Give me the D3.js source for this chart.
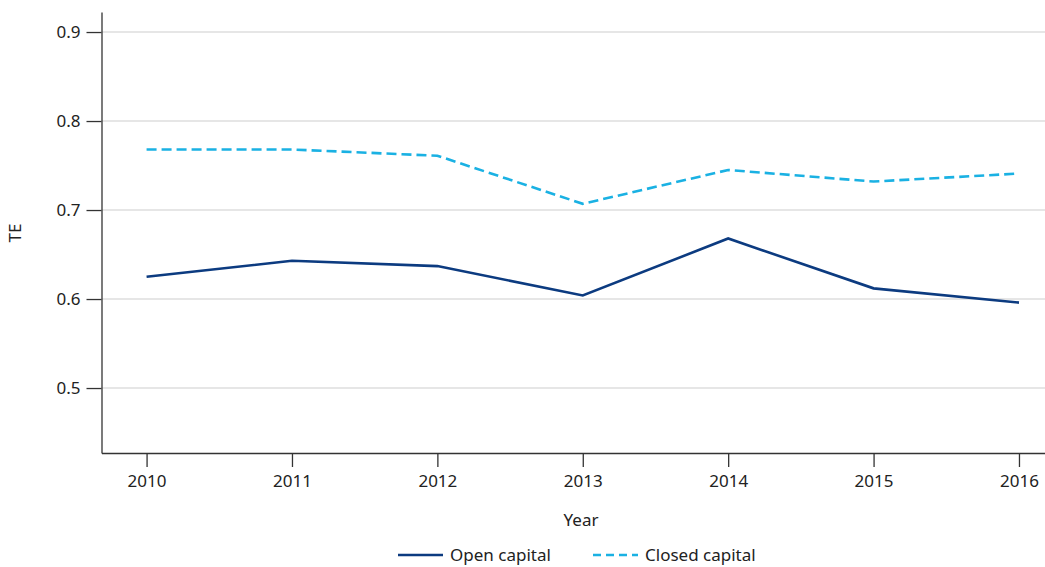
<!DOCTYPE html>
<html>
<head>
<meta charset="utf-8">
<script src="https://cdn.jsdelivr.net/npm/d3@7"></script>
<style>
  body { margin: 0; background: #fff; }
  text { font-family: "Noto Sans", "Open Sans", sans-serif; fill: #222; }
</style>
</head>
<body>
<svg id="chart" width="1045" height="567"></svg>
<script>
// data
var years = [2010, 2011, 2012, 2013, 2014, 2015, 2016];
var openCapital = [0.625, 0.643, 0.637, 0.604, 0.668, 0.612, 0.596];
var closedCapital = [0.768, 0.768, 0.761, 0.707, 0.745, 0.732, 0.741];
var yTicks = [0.5, 0.6, 0.7, 0.8, 0.9];
var seriesNames = ["Open capital", "Closed capital"];

var margin = {top: 12, right: 0, bottom: 114, left: 101.5},
  width = 1045 - margin.left - margin.right,
  height = 567 - margin.top - margin.bottom;

var svg = d3.select("#chart")
  .append("g")
  .attr("transform", "translate(" + margin.left + "," + margin.top + ")");

// x runs a little past the first and last year
var x = d3.scaleLinear().domain([2009.69, 2016.179]).range([0, width]);
var y = d3.scaleLinear().domain([0.427, 0.9225]).range([height, 0]);

// gridlines
svg.append("g")
  .selectAll("line")
  .data(yTicks)
  .enter().append("line")
  .attr("x1", 0)
  .attr("x2", width)
  .attr("y1", function(d) { return y(d); })
  .attr("y2", function(d) { return y(d); })
  .attr("stroke", "#dedede")
  .attr("stroke-width", 1.5);

// y axis
var yAxis = svg.append("g")
  .call(d3.axisLeft(y).tickValues(yTicks).tickSize(15).tickSizeOuter(0).tickPadding(6)
    .tickFormat(d3.format(".1f")));
yAxis.selectAll("text").style("font-size", "17px");

// x axis
var xAxis = svg.append("g")
  .attr("transform", "translate(0," + height + ")")
  .call(d3.axisBottom(x).tickValues(years).tickSize(14).tickSizeOuter(0).tickPadding(8)
    .tickFormat(d3.format("d")));
xAxis.selectAll("text").style("font-size", "17px");

svg.selectAll(".domain, .tick line").attr("stroke", "#333").attr("stroke-width", 1.3);

var openPts = years.map(function(d, i) { return {year: d, value: openCapital[i]}; });
var closedPts = years.map(function(d, i) { return {year: d, value: closedCapital[i]}; });

var valueline = d3.line()
  .x(function(d) { return x(d.year); })
  .y(function(d) { return y(d.value); });

svg.append("path")
  .datum(closedPts)
  .attr("fill", "none")
  .attr("stroke", "#1ab1e3")
  .attr("stroke-width", 2.6)
  .attr("stroke-dasharray", "10,5")
  .attr("d", valueline);

svg.append("path")
  .datum(openPts)
  .attr("fill", "none")
  .attr("stroke", "#0c3b80")
  .attr("stroke-width", 2.6)
  .attr("d", valueline);

// axis titles
svg.append("text")
  .attr("x", 581 - margin.left)
  .attr("y", 520 - margin.top)
  .attr("dy", "0.35em")
  .attr("text-anchor", "middle")
  .style("font-size", "17px")
  .text("Year");

svg.append("text")
  .attr("transform", "translate(" + (15 - margin.left) + "," + (233 - margin.top) + ") rotate(-90)")
  .attr("dy", "0.35em")
  .attr("text-anchor", "middle")
  .style("font-size", "17px")
  .text("TE");

// legend
var root = d3.select("#chart");
var legend = [
  {name: seriesNames[0], x: 398, color: "#0c3b80", dash: null},
  {name: seriesNames[1], x: 593, color: "#1ab1e3", dash: "8,5"}
];
legend.forEach(function(l) {
  root.append("line")
    .attr("x1", l.x).attr("x2", l.x + 45)
    .attr("y1", 555).attr("y2", 555)
    .attr("stroke", l.color)
    .attr("stroke-width", 2.6)
    .attr("stroke-dasharray", l.dash);
  root.append("text")
    .attr("x", l.x + 52)
    .attr("y", 555)
    .attr("dy", "0.35em")
    .style("font-size", "17px")
    .text(l.name);
});
</script>
</body>
</html>
